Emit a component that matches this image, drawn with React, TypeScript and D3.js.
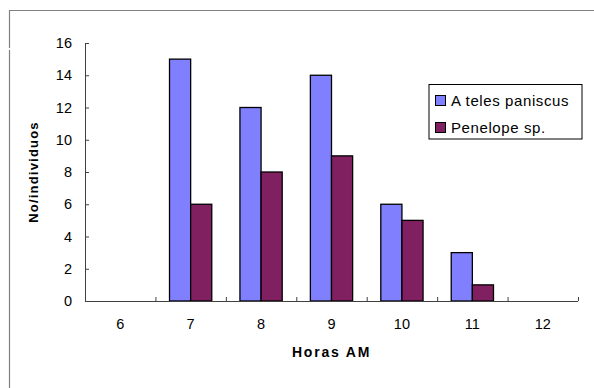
import React from "react";
import * as d3 from "d3";

const categories = ["6", "7", "8", "9", "10", "11", "12"];
const ateles = [0, 15, 12, 14, 6, 3, 0];
const penelope = [0, 6, 8, 9, 5, 1, 0];
const seriesNames = ["Ateles paniscus", "Penelope sp."];
const seriesColors = ["#8080FF", "#802060"];
const yTicks = [0, 2, 4, 6, 8, 10, 12, 14, 16];

export default function App() {
  const W = 594, H = 388;
  const left = 85, right = 578, top = 43, bottom = 301;
  const x = d3.scaleBand<string>().domain(categories).range([left, right]).paddingInner(0).paddingOuter(0);
  const y = d3.scaleLinear().domain([0, 16]).range([bottom, top]);
  const bw = x.bandwidth();
  const barW = bw * 0.3;
  const series = [ateles, penelope];
  const font = "Arial, 'Liberation Sans', sans-serif";
  const axisColor = "#404040";

  return (
    <svg width={W} height={H} style={{ position: "absolute", left: 0, top: 0, background: "#fff" }}>
      {/* outer frame */}
      <line x1={9} y1={10.5} x2={W} y2={10.5} stroke="#808080" strokeWidth={1.2} />
      <line x1={9.5} y1={10} x2={9.5} y2={48} stroke="#808080" strokeWidth={1.2} />
      <line x1={9.5} y1={50} x2={9.5} y2={H} stroke="#808080" strokeWidth={1.2} />

      {/* bars */}
      {series.map((vals, si) =>
        vals.map((v, i) => {
          if (v <= 0) return null;
          const cx = (x(categories[i]) as number) + bw / 2;
          const bx = cx - barW + si * barW;
          return (
            <rect key={`${si}-${i}`} x={bx} y={y(v)} width={barW} height={y(0) - y(v)}
              fill={seriesColors[si]} stroke="#000" strokeWidth={1.3} />
          );
        })
      )}

      {/* y axis */}
      <line x1={left + 0.5} y1={top} x2={left + 0.5} y2={bottom} stroke={axisColor} strokeWidth={1} />
      {yTicks.map((t) => (
        <g key={t}>
          <line x1={left} y1={y(t) + 0.5} x2={left + 4} y2={y(t) + 0.5} stroke={axisColor} strokeWidth={1} />
          <text x={72} y={y(t) + 5} textAnchor="end" fontFamily={font} fontSize={14.5} fill="#000">{t}</text>
        </g>
      ))}

      {/* x axis */}
      <line x1={left} y1={bottom + 0.5} x2={right} y2={bottom + 0.5} stroke={axisColor} strokeWidth={1} />
      {categories.map((c, i) => (
        <line key={"t" + i} x1={(x(c) as number) + bw + 0.5} y1={bottom - 4} x2={(x(c) as number) + bw + 0.5} y2={bottom}
          stroke={axisColor} strokeWidth={1} />
      ))}
      {categories.map((c) => (
        <text key={"l" + c} x={(x(c) as number) + bw / 2} y={329} textAnchor="middle" fontFamily={font} fontSize={14.5} fill="#000">{c}</text>
      ))}

      {/* axis titles */}
      <text x={(left + right) / 2} y={357} textAnchor="middle" fontFamily={font} fontSize={14} fontWeight="bold" letterSpacing={1.8} fill="#000">Horas AM</text>
      <text transform={`translate(38, ${(top + bottom) / 2}) rotate(-90)`} textAnchor="middle" fontFamily={font} fontSize={13} fontWeight="bold" letterSpacing={1.2} fill="#000">No/individuos</text>

      {/* legend */}
      <rect x={429} y={84.5} width={153} height={54.5} fill="#fff" stroke="#000" strokeWidth={1} />
      {seriesNames.map((n, i) => (
        <g key={n}>
          <rect x={435.5} y={95.5 + i * 27} width={10} height={10} fill={seriesColors[i]} stroke="#000" strokeWidth={1} />
          {i === 0 ? (
            <text x={451} y={105.5 + i * 27} fontFamily={font} fontSize={15} letterSpacing={0.6} fill="#000">
              <tspan>{n.slice(0, 1)}</tspan><tspan dx={4}>{n.slice(1)}</tspan>
            </text>
          ) : (
            <text x={451} y={105.5 + i * 27} fontFamily={font} fontSize={15} letterSpacing={0.6} fill="#000">{n}</text>
          )}
        </g>
      ))}
    </svg>
  );
}
